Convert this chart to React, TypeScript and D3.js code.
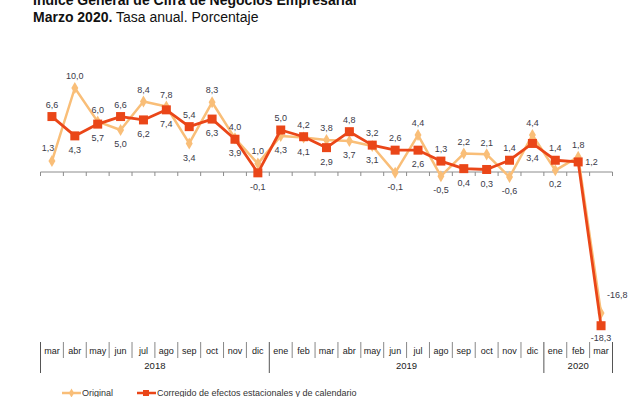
import React, { useEffect, useRef } from "react";
import * as d3 from "d3";

const settings = {
  width: 643,
  height: 397,
  zeroY: 172,
  unit: 8.4,
  left: 40.5,
  right: 612.5,
};

const months = [
  "mar", "abr", "may", "jun", "jul", "ago", "sep", "oct", "nov", "dic",
  "ene", "feb", "mar", "abr", "may", "jun", "jul", "ago", "sep", "oct", "nov", "dic",
  "ene", "feb", "mar",
];
const years = [
  { label: "2018", from: 0, to: 10 },
  { label: "2019", from: 10, to: 22 },
  { label: "2020", from: 22, to: 25 },
];

const original = [
  1.3, 10.0, 6.0, 5.0, 8.4, 7.8, 3.4, 8.3, 4.0, 1.0,
  4.3, 4.1, 3.8, 3.7, 3.1, -0.1, 4.4, -0.5, 2.2, 2.1, -0.6, 4.4,
  0.2, 1.8, -16.8,
];
const corregido = [
  6.6, 4.3, 5.7, 6.6, 6.2, 7.4, 5.4, 6.3, 3.9, -0.1,
  5.0, 4.2, 2.9, 4.8, 3.2, 2.6, 2.6, 1.3, 0.4, 0.3, 1.4, 3.4,
  1.4, 1.2, -18.3,
];

const ORANGE = "#F9BE78";
const RED = "#EA4618";
const fmt = (v: number) => v.toFixed(1).replace(".", ",");

export default function App() {
  const svgRef = useRef(null);
  useEffect(() => {
    const svg = d3.select(svgRef.current);
    svg.selectAll("*").remove();
    const keys = months.map((m, i) => `${i}-${m}`);
    const x = d3.scaleBand().domain(keys).range([settings.left, settings.right]).padding(0);
    const cx = (i: number) => (x(keys[i]) || 0) + x.bandwidth() / 2;
    const y = d3
      .scaleLinear()
      .domain([-20, 12])
      .range([settings.zeroY + 20 * settings.unit, settings.zeroY - 12 * settings.unit]);

    // title (first line is cut at the top, as in the original)
    const title = svg.append("g").attr("font-family", "Liberation Sans, Arial, sans-serif").attr("fill", "#111");
    title.append("text").attr("x", 33).attr("y", 5).attr("font-size", 14).attr("font-weight", "bold")
      .text("Índice General de Cifra de Negocios Empresarial");
    const t2 = title.append("text").attr("x", 33).attr("y", 22).attr("font-size", 14);
    t2.append("tspan").attr("font-weight", "bold").text("Marzo 2020.");
    t2.append("tspan").text(" Tasa anual. Porcentaje");

    // zero axis with ticks
    svg.append("line").attr("x1", settings.left).attr("x2", settings.right)
      .attr("y1", y(0)).attr("y2", y(0)).attr("stroke", "#8c8c8c").attr("stroke-width", 1);
    svg.append("g").selectAll("line").data(d3.range(keys.length + 1)).join("line")
      .attr("x1", (d) => settings.left + d * x.bandwidth())
      .attr("x2", (d) => settings.left + d * x.bandwidth())
      .attr("y1", y(0)).attr("y2", y(0) + 4).attr("stroke", "#8c8c8c");

    // lines
    const line = d3.line<number>().x((_, i) => cx(i)).y((d) => y(d));
    svg.append("path").datum(original).attr("d", line).attr("fill", "none")
      .attr("stroke", ORANGE).attr("stroke-width", 2.5).attr("stroke-linejoin", "round");
    svg.append("g").selectAll("path").data(original).join("path")
      .attr("d", d3.symbol(d3.symbolDiamond, 42)() as string)
      .attr("transform", (d, i) => `translate(${cx(i)},${y(d)})`)
      .attr("fill", ORANGE);

    svg.append("path").datum(corregido).attr("d", line).attr("fill", "none")
      .attr("stroke", RED).attr("stroke-width", 2.8).attr("stroke-linejoin", "round");
    svg.append("g").selectAll("rect").data(corregido).join("rect")
      .attr("x", (d, i) => cx(i) - 4.5).attr("y", (d) => y(d) - 4.5)
      .attr("width", 9).attr("height", 9).attr("fill", RED);

    // data labels: higher value above, lower below, a few moved by hand
    const labels: { x: number; y: number; t: string; anchor: string }[] = [];
    original.forEach((o, i) => {
      const c = corregido[i];
      const last = keys.length - 1;
      const place = (v: number, isHi: boolean, series: string) => {
        let dx = 0;
        let dy = isHi ? -12 : 14;
        let anchor = "middle";
        if (series === "o" && (i === 0 || i === 9)) { dy = -13; dx = i === 0 ? -4 : 0; }
        if (series === "c" && i === last - 1) { dx = 7; dy = 0; anchor = "start"; }
        if (i === last) {
          if (series === "o") { dx = 6; dy = -18; anchor = "start"; } else { dy = 12; }
        }
        labels.push({ x: cx(i) + dx, y: y(v) + dy, t: fmt(v), anchor });
      };
      const oHi = o >= c;
      place(o, oHi, "o");
      place(c, !oHi, "c");
    });
    svg.append("g").attr("font-family", "Liberation Sans, Arial, sans-serif").attr("font-size", 9)
      .attr("fill", "#3a3a48")
      .selectAll("text").data(labels).join("text")
      .attr("x", (d) => d.x).attr("y", (d) => d.y).attr("dy", "0.35em")
      .attr("text-anchor", (d) => d.anchor).text((d) => d.t);

    // category axis
    const cat = svg.append("g").attr("font-family", "Liberation Sans, Arial, sans-serif").attr("fill", "#222");
    cat.selectAll("text.m").data(months).join("text").attr("class", "m")
      .attr("x", (_, i) => cx(i)).attr("y", 351).attr("dy", "0.35em").attr("text-anchor", "middle")
      .attr("font-size", 9).text((d) => d);
    const bounds = d3.range(keys.length + 1);
    const yearEdges = new Set(years.flatMap((g) => [g.from, g.to]));
    cat.selectAll("line").data(bounds).join("line")
      .attr("x1", (d) => settings.left + d * x.bandwidth())
      .attr("x2", (d) => settings.left + d * x.bandwidth())
      .attr("y1", 342).attr("y2", (d) => (yearEdges.has(d) ? 373 : 358))
      .attr("stroke", (d) => (yearEdges.has(d) ? "#555" : "#888")).attr("stroke-width", 1);
    cat.selectAll("text.y").data(years).join("text").attr("class", "y")
      .attr("x", (d) => settings.left + ((d.from + d.to) / 2) * x.bandwidth())
      .attr("y", 366).attr("dy", "0.35em").attr("text-anchor", "middle").attr("font-size", 9.5)
      .text((d) => d.label);

    // legend
    const lg = svg.append("g").attr("font-family", "Liberation Sans, Arial, sans-serif").attr("font-size", 9)
      .attr("fill", "#333");
    const items = [
      { x: 62, color: ORANGE, label: "Original", sq: false },
      { x: 137, color: RED, label: "Corregido de efectos estacionales y de calendario", sq: true },
    ];
    items.forEach((it) => {
      lg.append("line").attr("x1", it.x).attr("x2", it.x + 19).attr("y1", 393).attr("y2", 393)
        .attr("stroke", it.color).attr("stroke-width", 2.5);
      if (it.sq) {
        lg.append("rect").attr("x", it.x + 6).attr("y", 390).attr("width", 6).attr("height", 6).attr("fill", it.color);
      } else {
        lg.append("path").attr("d", d3.symbol(d3.symbolDiamond, 24)() as string)
          .attr("transform", `translate(${it.x + 9.5},393)`).attr("fill", it.color);
      }
      lg.append("text").attr("x", it.x + 20).attr("y", 393).attr("dy", "0.35em").text(it.label);
    });
  }, []);

  return (
    <svg
      ref={svgRef}
      width={settings.width}
      height={settings.height}
      style={{ position: "absolute", left: 0, top: 0, background: "#fff" }}
    ></svg>
  );
}
